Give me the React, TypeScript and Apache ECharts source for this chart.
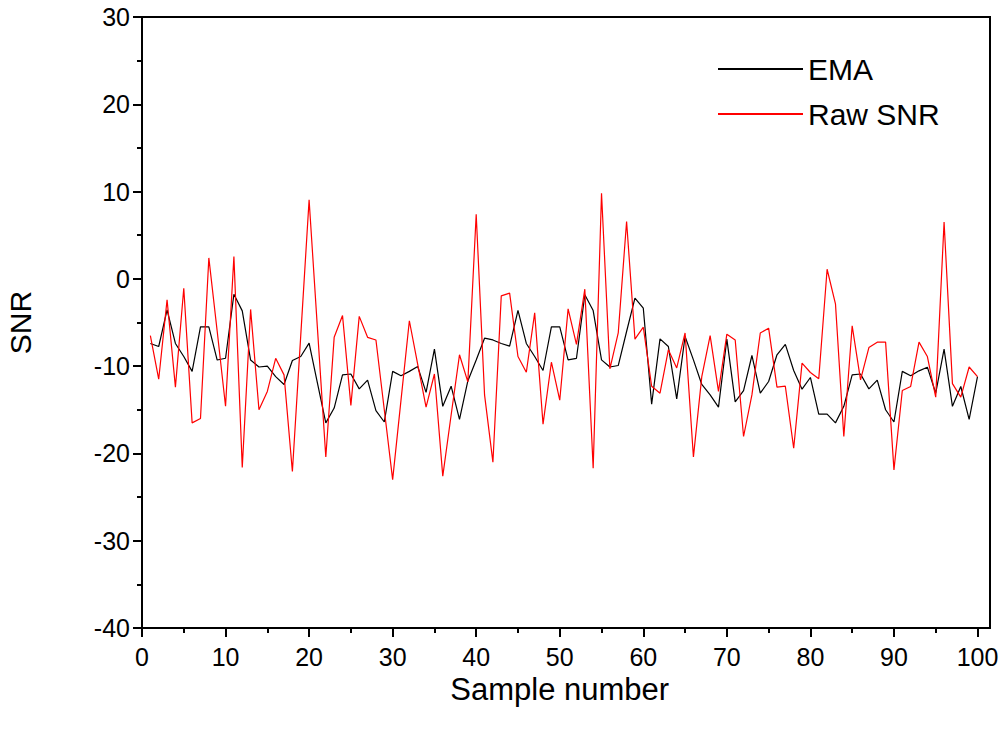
import React, { useEffect, useRef } from "react";
import * as echarts from "echarts";

const emaSNR = [
  -7.4, -7.75, -3.55, -7.4, -8.9, -10.6, -5.5, -5.5, -9.3, -9.1,
  -1.76, -3.67, -9.3, -10.1, -10.0, -11.2, -12.1, -9.35, -8.9, -7.37,
  -11.95, -16.5, -14.8, -11.0, -10.9, -12.6, -11.6, -15.1, -16.4, -10.6,
  -11.1, -10.6, -10.05, -13.0, -8.06, -14.6, -12.3, -16.1, -11.7, -9.3,
  -6.8, -7.0, -7.4, -7.7, -3.6, -7.4, -8.9, -10.5, -5.5, -5.5,
  -9.28, -9.1, -1.83, -3.63, -9.28, -10.1, -9.93, -6.03, -2.2, -3.36,
  -14.36, -6.87, -7.75, -13.75, -6.6, -9.28, -12.1, -13.3, -14.7, -6.9,
  -14.1, -12.8, -8.78, -13.1, -11.76, -8.7, -7.5, -10.5, -12.64, -11.3,
  -15.5, -15.5, -16.5, -14.6, -11.0, -10.9, -12.6, -11.6, -15.0, -16.4,
  -10.6, -11.1, -10.54, -10.12, -13.1, -8.06, -14.6, -12.33, -16.1, -11.2,
];

const rawSNR = [
  -6.5, -11.5, -2.4, -12.4, -1.07, -16.5, -16.0, 2.4, -6.0, -14.6,
  2.56, -21.6, -3.5, -15.0, -12.9, -9.1, -11.0, -22.07, -6.5, 9.05,
  -5.7, -20.4, -6.7, -4.2, -14.5, -4.3, -6.7, -7.0, -15.0, -23.0,
  -13.9, -4.8, -9.8, -14.7, -10.9, -22.6, -15.6, -8.7, -11.8, 7.4,
  -13.3, -21.0, -1.95, -1.64, -8.9, -10.7, -3.9, -16.65, -9.55, -13.9,
  -3.44, -7.5, -1.18, -21.7, 9.81, -10.3, -6.2, 6.57, -6.9, -5.54,
  -12.3, -13.1, -8.13, -10.2, -6.2, -20.4, -11.2, -6.5, -12.9, -6.34,
  -7.0, -18.06, -13.3, -6.2, -5.65, -12.4, -12.3, -19.4, -9.66, -10.73,
  -11.45, 1.1, -2.86, -18.06, -5.38, -11.57, -7.87, -7.25, -7.25, -21.88,
  -12.79, -12.33, -7.25, -8.9, -13.55, 6.5, -12.0, -13.55, -10.1, -11.2,
];

const sampleNumbers = rawSNR.map((_, i) => i + 1);
const seriesNames = ["EMA", "Raw SNR"];
const seriesColors = ["#000000", "#ff0000"];

const FONT = "'Liberation Sans', Arial, sans-serif";

export default function App() {
  const ref = useRef<HTMLDivElement>(null);

  useEffect(() => {
    if (!ref.current) return;
    const chart = echarts.init(ref.current, null, { renderer: "svg" });
    const axisCommon = {
      axisLine: { show: true, onZero: false, lineStyle: { color: "#000", width: 2 } },
      axisTick: { show: true, inside: false, length: 9, lineStyle: { color: "#000", width: 2 } },
      minorTick: { show: true, splitNumber: 2, length: 5, lineStyle: { color: "#000", width: 2 } },
      splitLine: { show: false },
      minorSplitLine: { show: false },
    };
    chart.setOption({
      animation: false,
      backgroundColor: "#ffffff",
      textStyle: { fontFamily: FONT },
      grid: {
        left: 142,
        top: 17,
        width: 835.5,
        height: 611,
        show: false,
        containLabel: false,
        outerBoundsMode: "none",
      },
      legend: {
        orient: "vertical",
        left: 713,
        top: 49,
        itemWidth: 85,
        itemHeight: 2,
        itemGap: 15,
        icon: "rect",
        textStyle: { fontSize: 30, color: "#000", fontFamily: FONT },
        data: seriesNames,
      },
      xAxis: {
        type: "value",
        min: 0,
        max: 100,
        interval: 10,
        name: "Sample number",
        nameLocation: "middle",
        nameGap: 40,
        nameTextStyle: { fontSize: 31, color: "#000", fontFamily: FONT },
        axisLabel: { fontSize: 25, color: "#000", margin: 16, fontFamily: FONT },
        ...axisCommon,
      },
      yAxis: {
        type: "value",
        min: -40,
        max: 30,
        interval: 10,
        name: "SNR",
        nameLocation: "middle",
        nameGap: 107,
        nameTextStyle: { fontSize: 30, color: "#000", fontFamily: FONT },
        axisLabel: { fontSize: 25, color: "#000", margin: 12, fontFamily: FONT },
        ...axisCommon,
      },
      graphic: [
        {
          type: "polyline",
          shape: { points: [[142, 17], [990, 17], [990, 628], [977, 628]] },
          style: { fill: "none", stroke: "#000", lineWidth: 2 },
          silent: true,
          z: 10,
        },
      ],
      series: [
        {
          name: seriesNames[0],
          type: "line",
          data: sampleNumbers.map((x, i) => [x, emaSNR[i]]),
          showSymbol: false,
          symbol: "none",
          color: seriesColors[0],
          lineStyle: { color: seriesColors[0], width: 1.2 },
        },
        {
          name: seriesNames[1],
          type: "line",
          data: sampleNumbers.map((x, i) => [x, rawSNR[i]]),
          showSymbol: false,
          symbol: "none",
          color: seriesColors[1],
          lineStyle: { color: seriesColors[1], width: 1.2 },
        },
      ],
    });
    return () => chart.dispose();
  }, []);

  return (
    <div
      ref={ref}
      style={{ position: "fixed", left: 0, top: 0, width: 1005, height: 729 }}
    />
  );
}
